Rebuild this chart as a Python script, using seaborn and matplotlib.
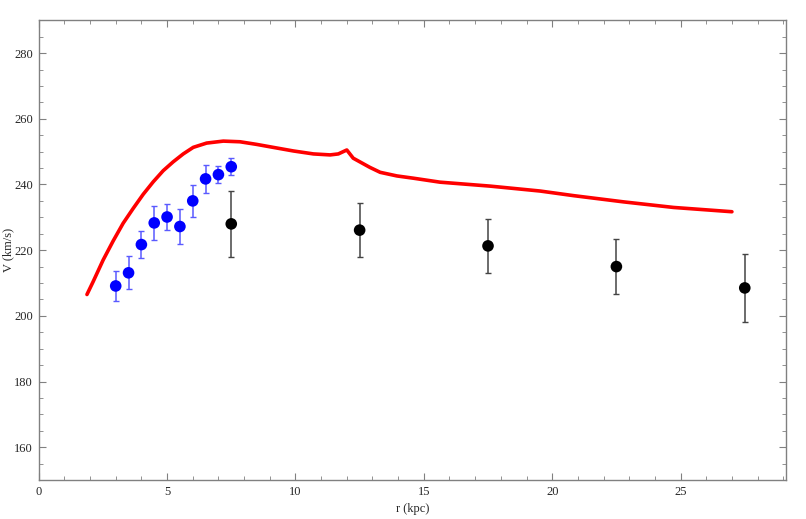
import numpy as np
import pandas as pd
import matplotlib
matplotlib.use("Agg")
import matplotlib.pyplot as plt
from matplotlib.ticker import MultipleLocator
import seaborn as sns

# -------------------------------
# Data
# -------------------------------

# model rotation curve
curve_r = [1.88, 2.12, 2.51, 2.9, 3.29, 3.68, 4.07, 4.46, 4.85, 5.24, 5.63,
           6.02, 6.54, 7.19, 7.84, 8.49, 9.13, 9.92, 10.7, 11.35, 11.67,
           12.0, 12.25, 12.9, 13.3, 13.95, 14.6, 15.63, 17.58, 19.53, 20.83,
           22.78, 24.73, 27.0]
curve_v = [206.5, 210.4, 217.0, 222.8, 228.2, 232.7, 237.0, 240.8, 244.2,
           246.9, 249.3, 251.3, 252.6, 253.2, 253.0, 252.2, 251.3, 250.2,
           249.3, 249.0, 249.3, 250.5, 248.0, 245.2, 243.7, 242.6, 241.9,
           240.7, 239.5, 238.0, 236.6, 234.7, 233.0, 231.7]

# inner data (blue)
inner_r = [3.0, 3.5, 4.0, 4.5, 5.0, 5.5, 6.0, 6.5, 7.0, 7.5]
inner_v = [209.1, 213.1, 221.7, 228.3, 230.1, 227.2, 235.0, 241.7, 243.0, 245.4]
inner_err = [4.6, 5.0, 4.0, 5.2, 4.0, 5.3, 4.8, 4.2, 2.5, 2.6]

# outer data (black)
outer_r = [7.5, 12.5, 17.5, 22.5, 27.5]
outer_v = [228.0, 226.1, 221.3, 215.0, 208.5]
outer_err = [10.1, 8.2, 8.3, 8.4, 10.4]

curve = pd.DataFrame({"r": curve_r, "v": curve_v})
inner = pd.DataFrame({"r": inner_r, "v": inner_v, "err": inner_err})
outer = pd.DataFrame({"r": outer_r, "v": outer_v, "err": outer_err})

sns.set_style("ticks")
plt.rcParams["font.family"] = ["Liberation Serif", "DejaVu Serif"]

fig = plt.figure(figsize=(8.06, 5.19), dpi=100)
ax = fig.add_axes([0.048, 0.075, 0.927, 0.886])

# -----------------------------------
# Curve and points
# -----------------------------------

sns.lineplot(data=curve, x="r", y="v", sort=False, color="#ff0000",
             linewidth=2.6, ax=ax, zorder=2)

ax.errorbar(inner["r"], inner["v"], yerr=inner["err"], fmt="none",
            ecolor="#5a5aff", elinewidth=1.1, capsize=2.5, capthick=1.0,
            zorder=3)
ax.errorbar(outer["r"], outer["v"], yerr=outer["err"], fmt="none",
            ecolor="#444444", elinewidth=1.1, capsize=2.5, capthick=1.0,
            zorder=3)

sns.scatterplot(data=inner, x="r", y="v", color="#0000ff", s=70,
                edgecolor="none", ax=ax, zorder=4)
sns.scatterplot(data=outer, x="r", y="v", color="#000000", s=70,
                edgecolor="none", ax=ax, zorder=4)

# -----------------------------------
# Axes styling
# -----------------------------------

ax.set_xlim(0, 29.1)
ax.set_ylim(150, 290)
ax.xaxis.set_major_locator(MultipleLocator(5))
ax.xaxis.set_minor_locator(MultipleLocator(1))
ax.yaxis.set_major_locator(MultipleLocator(20))
ax.yaxis.set_minor_locator(MultipleLocator(5))
ax.set_yticks([160, 180, 200, 220, 240, 260, 280])

ax.tick_params(which="both", direction="in", top=True, right=True,
               color="#808080", labelsize=9, pad=4)
ax.tick_params(which="major", length=5, width=0.8)
ax.tick_params(which="minor", length=3, width=0.6)
ax.tick_params(axis="x", which="both", labeltop=False)
ax.tick_params(axis="y", which="both", labelright=False)
for s in ax.spines.values():
    s.set_color("#808080")
    s.set_linewidth(1.0)

ax.set_xlabel("r (kpc)", fontsize=9, labelpad=4)
ax.set_ylabel("V (km/s)", fontsize=9)
ax.yaxis.set_label_coords(-0.033, 0.5)

plt.savefig("out.png", dpi=100)
